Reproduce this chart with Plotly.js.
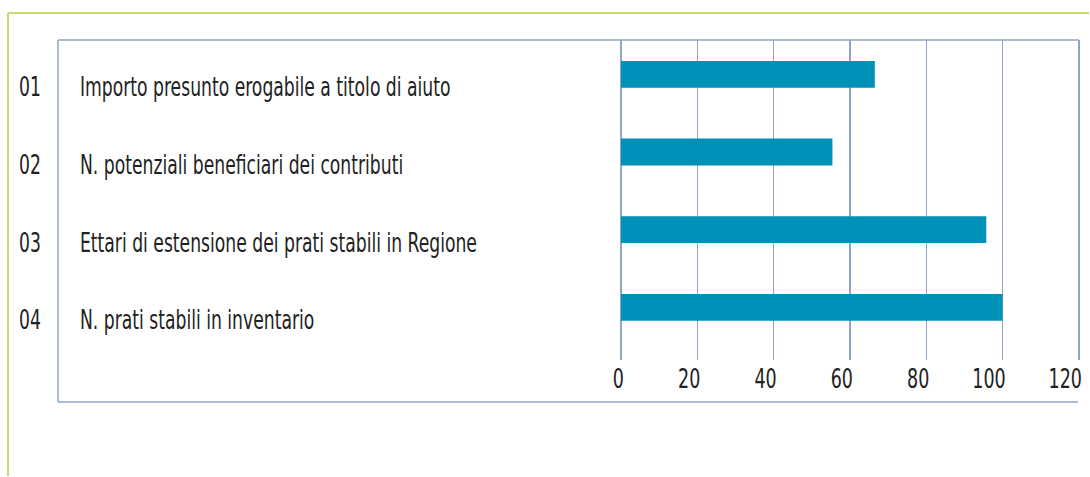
<!DOCTYPE html>
<html>
<head>
<meta charset="utf-8">
<script src="https://cdn.plot.ly/plotly-3.0.1.min.js"></script>
<style>
html,body{margin:0;padding:0;background:#fff;overflow:hidden;}
#chart{width:1090px;height:477px;}
</style>
</head>
<body>
<div id="chart"></div>
<script>
const codes = ["01", "02", "03", "04"];
const categories = [
  "Importo presunto erogabile a titolo di aiuto",
  "N. potenziali beneficiari dei contributi",
  "Ettari di estensione dei prati stabili in Regione",
  "N. prati stabili in inventario"
];
const values = [66.5, 55.4, 95.7, 100];
const tickValues = [0, 20, 40, 60, 80, 100, 120];

const FONT = '"DejaVu Sans Condensed", "Liberation Sans Narrow", sans-serif';
const SQUEEZE_LABEL = 0.735;   // the reference typeface is strongly condensed
const SQUEEZE_TICK = 0.72;
const W = 1090, H = 477;
const L = 621, R = 1082, T = 40, B = 360;
const X120 = 1079;                       // pixel of the value 120
const XMAX = 120 * (R - L) / (X120 - L);
const px = x => (x - L) / (R - L);
const py = y => (B - y) / (B - T);

const annotations = [];
categories.forEach((c, i) => {
  annotations.push({
    text: codes[i], xref: 'paper', yref: 'y', x: px(17), y: c,
    xanchor: 'left', yanchor: 'middle', yshift: -13, showarrow: false,
    font: {family: FONT, size: 26, color: '#222222'}
  });
  annotations.push({
    text: c, xref: 'paper', yref: 'y', x: px(78), y: c,
    xanchor: 'left', yanchor: 'middle', yshift: -13, showarrow: false,
    font: {family: FONT, size: 26, color: '#222222'}
  });
});

const boxColor = '#8ea4c8';
const greenColor = '#c9d872';
const shapes = [
  {type: 'line', xref: 'paper', yref: 'paper', x0: px(8), x1: px(W - 1), y0: py(13), y1: py(13), line: {color: greenColor, width: 2}},
  {type: 'line', xref: 'paper', yref: 'paper', x0: px(8), x1: px(8), y0: py(13), y1: py(H - 1), line: {color: greenColor, width: 2}},
  {type: 'line', xref: 'paper', yref: 'paper', x0: px(58), x1: px(X120), y0: py(40), y1: py(40), line: {color: boxColor, width: 1.5}},
  {type: 'line', xref: 'paper', yref: 'paper', x0: px(58), x1: px(X120 - 1), y0: py(402), y1: py(402), line: {color: boxColor, width: 1.5}},
  {type: 'line', xref: 'paper', yref: 'paper', x0: px(58), x1: px(58), y0: py(40), y1: py(402), line: {color: boxColor, width: 1.5}}
];

const trace = {
  type: 'bar', orientation: 'h',
  x: values, y: categories,
  marker: {color: '#0091b8'},
  hoverinfo: 'x'
};

const layout = {
  width: W, height: H,
  margin: {l: L, r: W - R, t: T, b: H - B, pad: 0},
  paper_bgcolor: '#ffffff', plot_bgcolor: '#ffffff',
  showlegend: false,
  bargap: 0.655,
  xaxis: {
    range: [0, XMAX], tickvals: tickValues, ticktext: tickValues.map(String),
    showgrid: true, gridcolor: boxColor, gridwidth: 1.5,
    zeroline: true, zerolinecolor: boxColor, zerolinewidth: 1.5,
    showline: false, ticks: '', ticklabelstandoff: 0,
    ticklabelposition: 'outside left', ticklabelshift: 3,
    tickfont: {family: FONT, size: 27, color: '#222222'},
    fixedrange: true
  },
  yaxis: {
    type: 'category', range: [3.678, -0.4416],
    showticklabels: false, showgrid: false, zeroline: false, showline: false, ticks: '',
    fixedrange: true
  },
  annotations: annotations,
  shapes: shapes
};

Plotly.newPlot('chart', [trace], layout, {displayModeBar: false, staticPlot: true}).then(gd => {
  // narrow the glyphs to imitate the condensed typeface of the original
  gd.querySelectorAll('.annotation-text').forEach(t => {
    const bb = t.getBBox();
    const w = t.getComputedTextLength();
    t.setAttribute('text-anchor', 'start');
    t.setAttribute('x', bb.x);
    t.setAttribute('textLength', w * SQUEEZE_LABEL);
    t.setAttribute('lengthAdjust', 'spacingAndGlyphs');
  });
  gd.querySelectorAll('.xtick text').forEach(t => {
    const w = t.getComputedTextLength();
    t.setAttribute('textLength', w * SQUEEZE_TICK);
    t.setAttribute('lengthAdjust', 'spacingAndGlyphs');
  });
});
</script>
</body>
</html>
